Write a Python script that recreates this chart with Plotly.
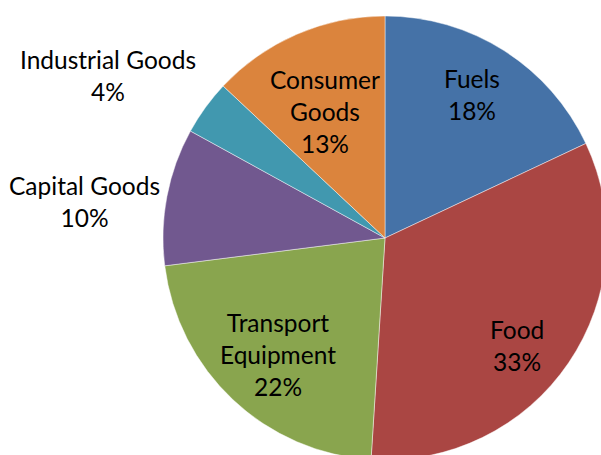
import plotly.graph_objects as go

categories = ["Fuels", "Food", "Transport<br>Equipment", "Capital Goods", "Industrial Goods", "Consumer<br>Goods"]
shares = [18, 33, 22, 10, 4, 13]
colors = ["#4572A7", "#AA4643", "#89A54E", "#71588F", "#4198AF", "#DB843D"]

# label placement (pixels in figure space) - layout only
label_pos = [(472, 94), (517, 345), (278, 354), (85, 202), (108, 76), (325, 111)]

W, H = 610, 462
cx, cy, R = 385, 238, 222

fig = go.Figure(go.Pie(
    labels=[c.replace("<br>", " ") for c in categories],
    values=shares,
    sort=False,
    direction="clockwise",
    rotation=0,
    marker=dict(colors=colors, line=dict(color="rgba(255,255,255,0.45)", width=1)),
    textinfo="none",
    hoverinfo="label+percent",
    domain=dict(x=[(cx - R) / W, (cx + R) / W], y=[1 - (cy + R) / H, 1 - (cy - R) / H]),
    showlegend=False,
))

for cat, val, (px, py) in zip(categories, shares, label_pos):
    fig.add_annotation(
        x=px / W, y=1 - py / H, xref="paper", yref="paper",
        text=f"{cat}<br>{val}%", showarrow=False,
        xanchor="center", yanchor="middle", align="center",
        font=dict(family="Lato, Carlito, Calibri, sans-serif", size=24.5, color="#000000"),
    )

fig.update_layout(
    width=W, height=H,
    margin=dict(l=0, r=0, t=0, b=0),
    paper_bgcolor="white", plot_bgcolor="white",
)

fig.write_html("out.html", config={"displayModeBar": False},
               post_script="document.documentElement.style.overflow='hidden';document.body.style.overflow='hidden';document.body.style.margin='0';")
